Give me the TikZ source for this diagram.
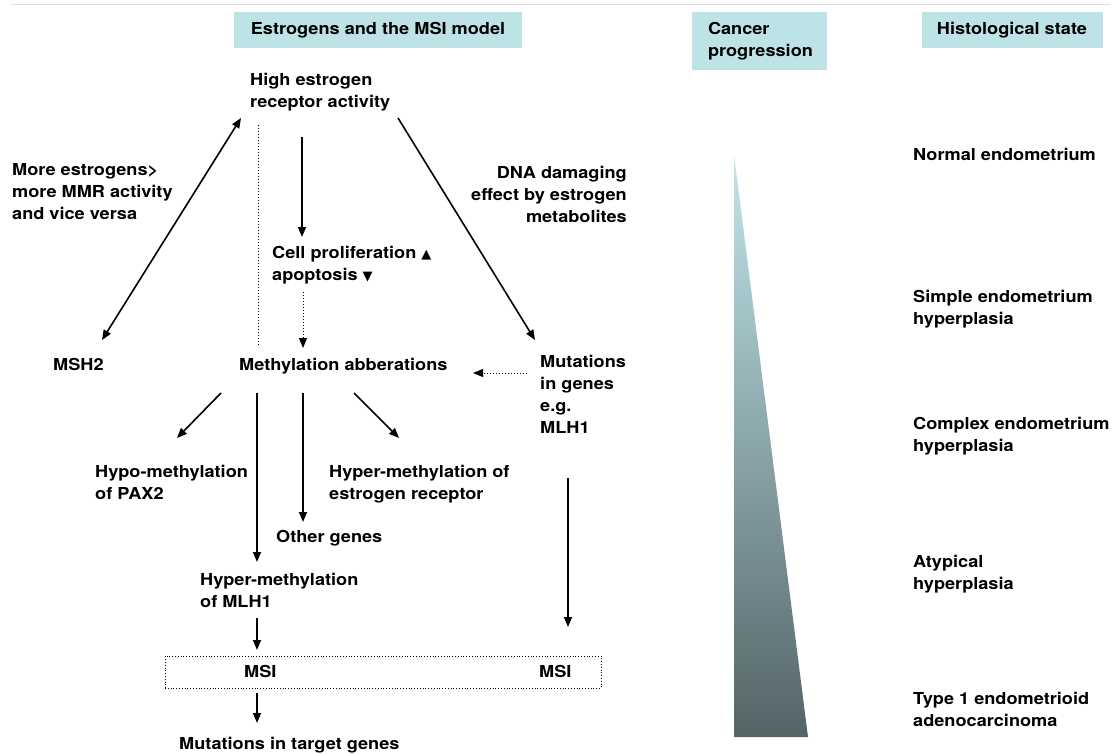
\documentclass[tikz,border=0pt]{standalone}
\usepackage{fontspec}
\setmainfont{TeX Gyre Heros}[FakeStretch=1.1]
\newfontfamily\symfont{DejaVu Sans}
\usetikzlibrary{arrows.meta}
\definecolor{headfill}{RGB}{189,227,230}
\definecolor{progtop}{RGB}{192,230,234}
\definecolor{progbot}{RGB}{84,100,104}
\definecolor{rulegrey}{RGB}{221,221,221}
\newcommand{\uptri}{{\symfont\fontsize{13}{22}\selectfont ▲}}
\newcommand{\dntri}{{\symfont\fontsize{13}{22}\selectfont ▼}}
\tikzset{
  lbl/.style={font=\fontsize{16.5}{22}\selectfont\bfseries, inner sep=0pt, align=left, anchor=north west},
  head/.style={fill=headfill, font=\fontsize{16.5}{22}\selectfont\bfseries, inner sep=0pt},
  arr/.style={line width=1.6pt, -{Triangle[length=10pt,width=8pt]}},
  dotarr/.style={line width=1pt, dotted, -{Triangle[length=10pt,width=8pt]}}
}
\begin{document}
\begin{tikzpicture}[x=1pt, y=-1pt]
  \useasboundingbox (0,0) rectangle (1116,754);
  \draw[rulegrey, line width=1pt] (11,5) -- (1110,5);
  % headers
  \node[head, minimum width=288pt, minimum height=36pt] (hdrmodel) at (378,30) {Estrogens and the MSI model};
  \node[head, minimum width=135pt, minimum height=58pt, text width=103pt, align=left] (hdrprog) at (759.5,41) {Cancer\\progression};
  \node[head, minimum width=181pt, minimum height=36pt] (hdrhist) at (1012,30) {Histological state};
  % model
  \node[lbl] (high) at (250,73) {High estrogen\\receptor activity};
  \node[lbl] (moreest) at (12,163) {More estrogens>\\more MMR activity\\and vice versa};
  \node[lbl, anchor=north east, align=right] (dnadmg) at (627,166) {DNA damaging\\effect by estrogen\\metabolites};
  \node[lbl] (cellpro) at (272,246) {Cell proliferation \uptri\\apoptosis \dntri};
  \node[lbl] (msh) at (53,358) {MSH2};
  \node[lbl] (methyl) at (239,358) {Methylation abberations};
  \node[lbl] (mutgen) at (540,355) {Mutations\\in genes\\e.g.\\MLH1};
  \node[lbl] (hypopax) at (95,465) {Hypo-methylation\\of PAX2};
  \node[lbl] (hyperer) at (329,465) {Hyper-methylation of\\estrogen receptor};
  \node[lbl] (other) at (276,530) {Other genes};
  \node[lbl] (hypermlh) at (200,573) {Hyper-methylation\\of MLH1};
  \node[draw, dotted, line width=0.8pt, minimum width=436pt, minimum height=32pt, inner sep=0pt] (msibox) at (383,672) {};
  \node[lbl] (msia) at (244,665) {MSI};
  \node[lbl] (msib) at (539,665) {MSI};
  \node[lbl] (target) at (179,737) {Mutations in target genes};
  % arrow ends
  \coordinate (high-l) at (241,118);
  \coordinate (msh-t) at (102,340);
  \coordinate (high-r) at (398,118);
  \coordinate (mut-t) at (535,340);
  \coordinate (high-m) at (302,137);
  \coordinate (cell-t) at (302,237);
  \coordinate (cell-b) at (303,292);
  \coordinate (meth-t) at (303,348);
  \coordinate (mut-l) at (527,373);
  \coordinate (meth-r) at (473,373);
  \coordinate (dot-t) at (258,125);
  \coordinate (dot-b) at (258,347);
  \coordinate (m1) at (221,393);
  \coordinate (m2) at (257,393);
  \coordinate (m3) at (303,393);
  \coordinate (m4) at (354,393);
  \coordinate (pax-t) at (177,438);
  \coordinate (mlh-t) at (257,562);
  \coordinate (oth-t) at (303,522);
  \coordinate (er-t) at (399,438);
  \coordinate (mut-b) at (568,478);
  \coordinate (msib-t) at (568,627);
  \coordinate (mlh-b) at (257,618);
  \coordinate (box-t) at (257,650);
  \coordinate (box-b) at (257,693);
  \coordinate (tgt-t) at (257,723);
  % connectors
  \draw[arr, {Triangle[length=10pt,width=8pt]}-{Triangle[length=10pt,width=8pt]}] (high-l) -- (msh-t);
  \draw[line width=1pt, dotted] (dot-t) -- (dot-b);
  \draw[arr] (high-m) -- (cell-t);
  \draw[arr] (high-r) -- (mut-t);
  \draw[dotarr] (cell-b) -- (meth-t);
  \draw[dotarr] (mut-l) -- (meth-r);
  \draw[arr] (m1) -- (pax-t);
  \draw[arr] (m2) -- (mlh-t);
  \draw[arr] (m3) -- (oth-t);
  \draw[arr] (m4) -- (er-t);
  \draw[arr] (mut-b) -- (msib-t);
  \draw[arr] (mlh-b) -- (box-t);
  \draw[arr] (box-b) -- (tgt-t);
  % progression
  \shade[top color=progtop, bottom color=progbot] (734,155) -- (734,737) -- (808,737) -- cycle;
  % histological state
  \node[lbl] (normal) at (913,148) {Normal endometrium};
  \node[lbl] (simple) at (913,290) {Simple endometrium\\hyperplasia};
  \node[lbl] (complex) at (913,417) {Complex endometrium\\hyperplasia};
  \node[lbl] (atypical) at (913,555) {Atypical\\hyperplasia};
  \node[lbl] (type1) at (913,692) {Type 1 endometrioid\\adenocarcinoma};
\end{tikzpicture}
\end{document}
